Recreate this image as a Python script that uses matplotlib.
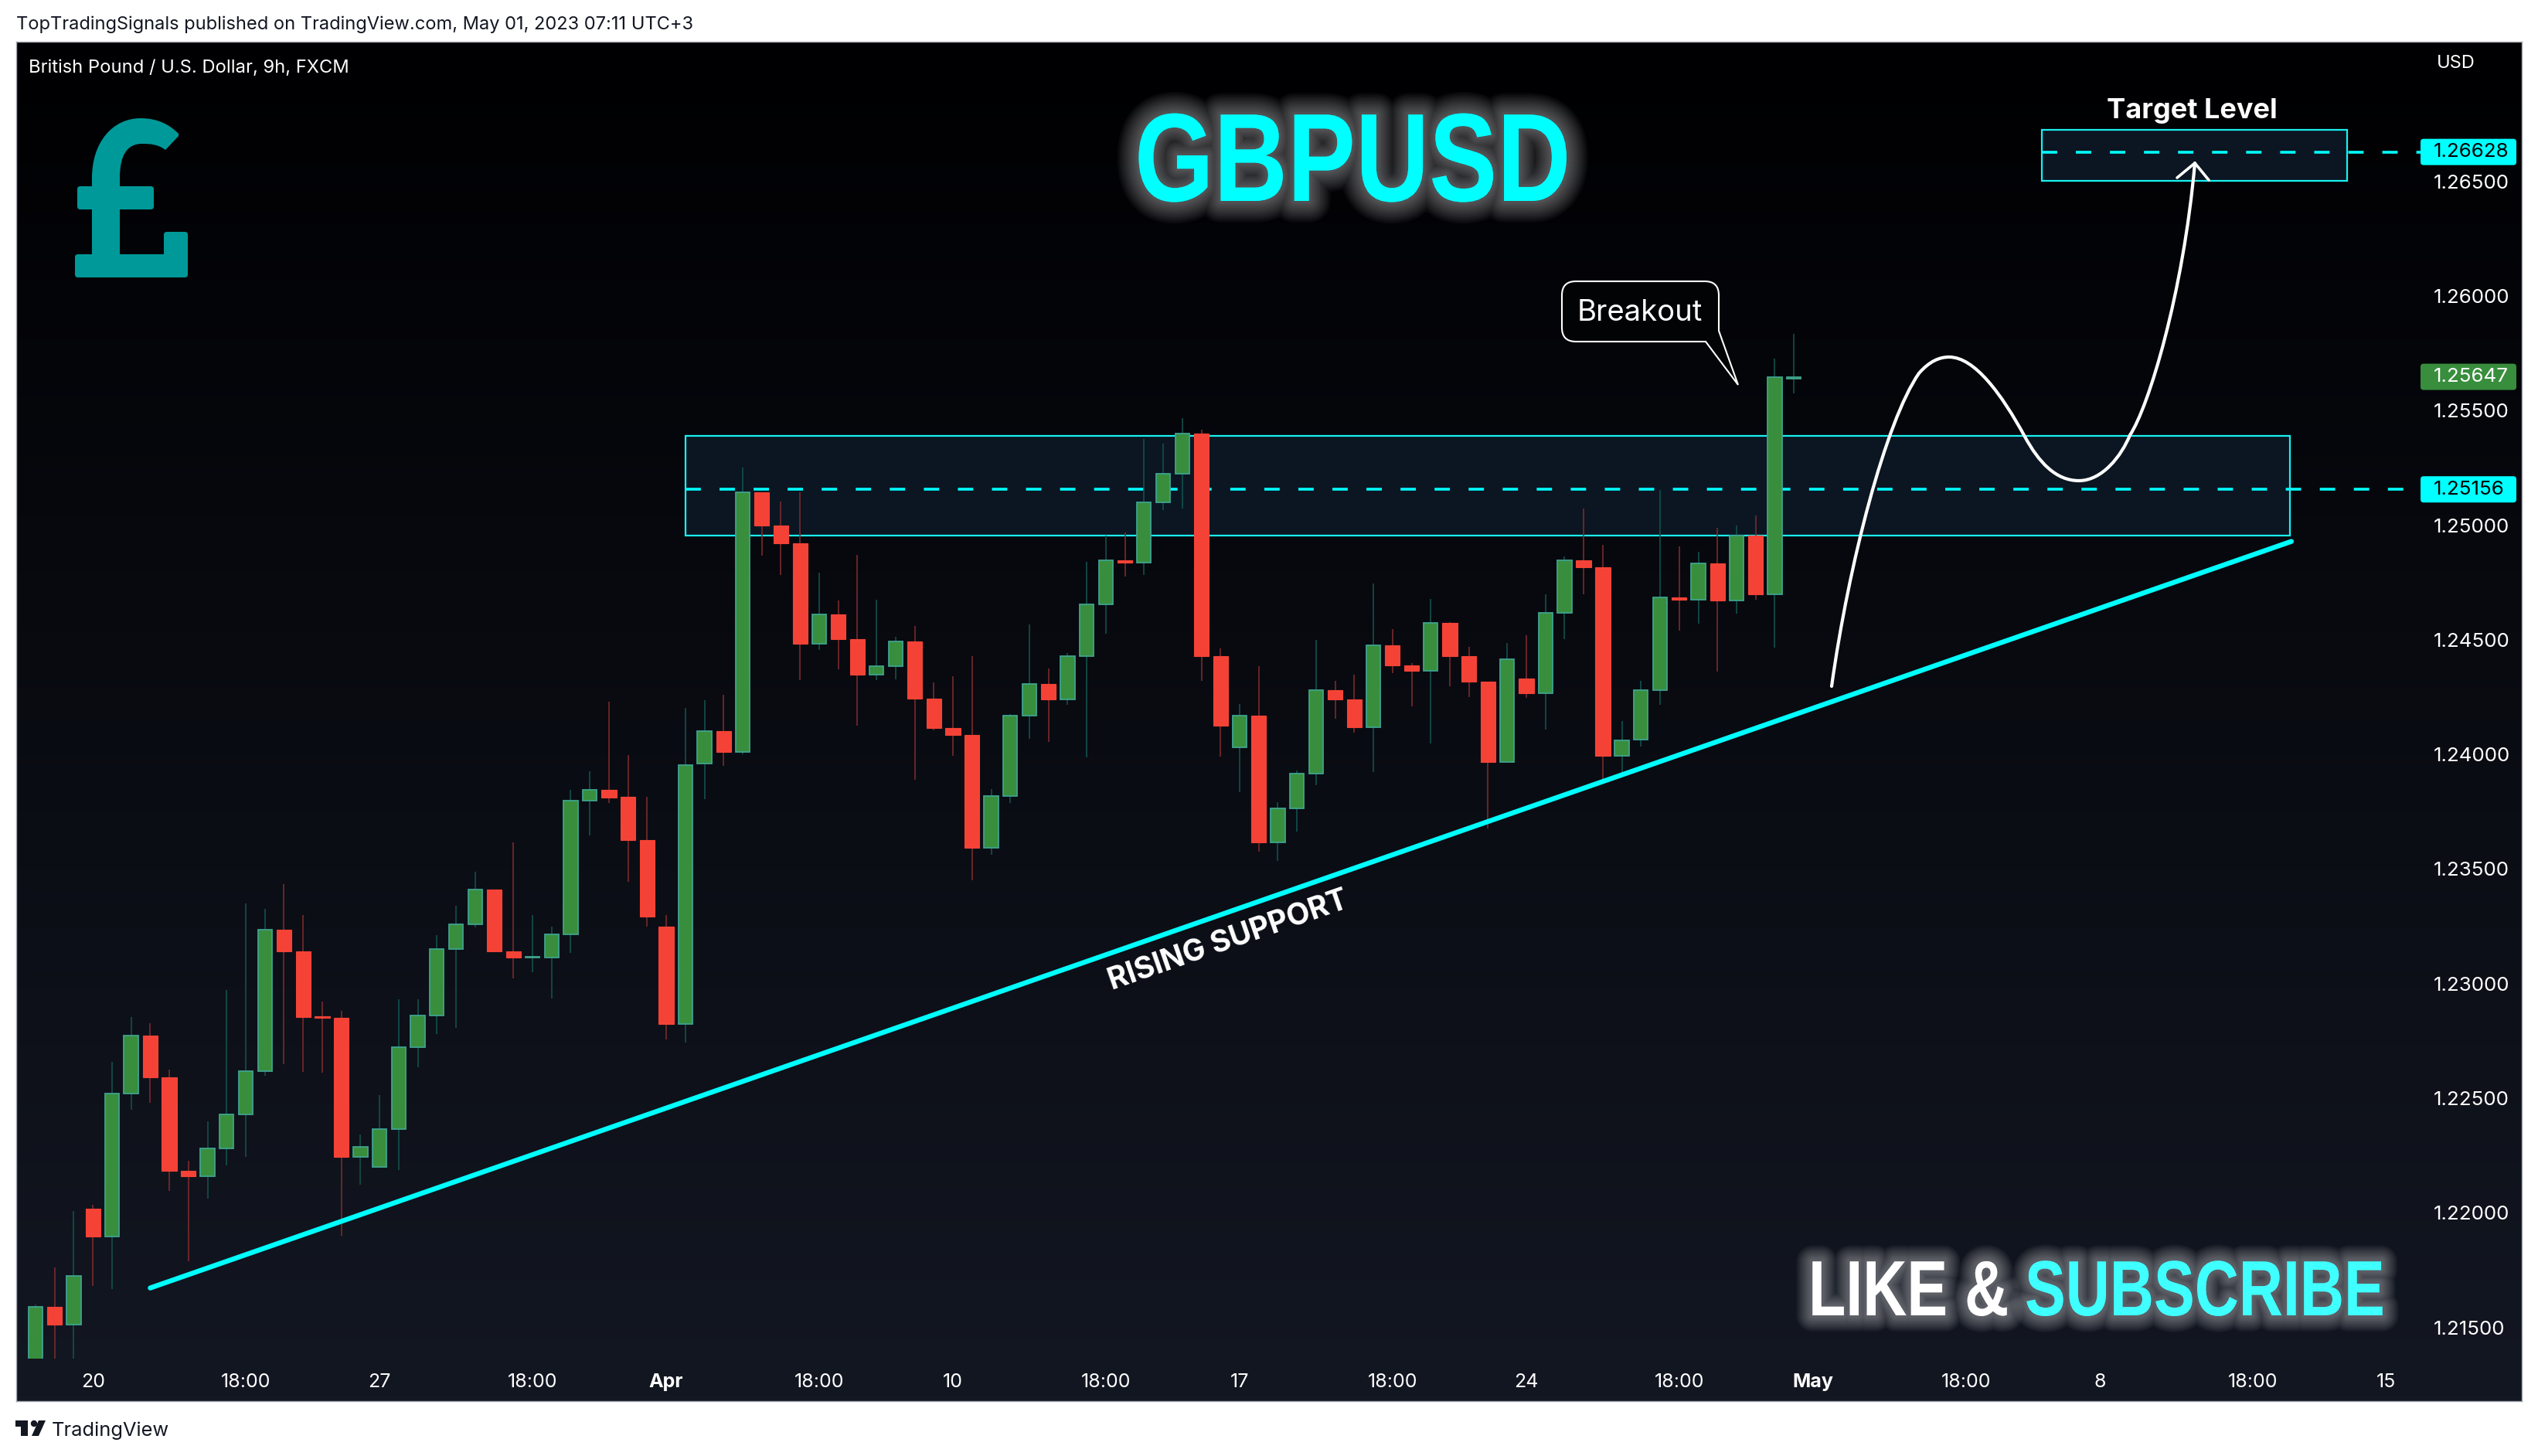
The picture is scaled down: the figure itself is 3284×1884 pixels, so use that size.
import numpy as np
import matplotlib
matplotlib.use('Agg')
import matplotlib.pyplot as plt
import matplotlib.patheffects as pe
from matplotlib.patches import FancyBboxPatch, PathPatch, Polygon, Circle, Rectangle
from matplotlib.path import Path
from matplotlib.transforms import Affine2D, Bbox

# 9h candles, oldest first
opens = [1.21350, 1.21589, 1.21513, 1.22019, 1.21897, 1.22520, 1.22773, 1.22591, 1.22183, 1.22160,
         1.22282, 1.22429, 1.22619, 1.23236, 1.23141, 1.22857, 1.22851, 1.22245, 1.22199, 1.22365,
         1.22723, 1.22860, 1.23151, 1.23259, 1.23410, 1.23141, 1.23112, 1.23114, 1.23215, 1.23799,
         1.23846, 1.23816, 1.23625, 1.23249, 1.22822, 1.23959, 1.24100, 1.24012, 1.25144, 1.24999,
         1.24922, 1.24483, 1.24612, 1.24504, 1.24349, 1.24385, 1.24494, 1.24244, 1.24114, 1.24086,
         1.23594, 1.23819, 1.24170, 1.24308, 1.24241, 1.24430, 1.24655, 1.24848, 1.24838, 1.25098,
         1.25225, 1.25400, 1.24427, 1.24029, 1.24170, 1.23615, 1.23766, 1.23917, 1.24279, 1.24241,
         1.24120, 1.24476, 1.24389, 1.24366, 1.24574, 1.24430, 1.24318, 1.23967, 1.24332, 1.24268,
         1.24619, 1.24848, 1.24817, 1.23995, 1.24064, 1.24279, 1.24686, 1.24676, 1.24834, 1.24672,
         1.24955, 1.24697, 1.25640]
closes = [1.21589, 1.21513, 1.21724, 1.21897, 1.22520, 1.22773, 1.22591, 1.22183, 1.22160, 1.22282,
          1.22429, 1.22619, 1.23236, 1.23139, 1.22855, 1.22851, 1.22245, 1.22288, 1.22365, 1.22723,
          1.22860, 1.23151, 1.23259, 1.23410, 1.23141, 1.23114, 1.23116, 1.23215, 1.23799, 1.23846,
          1.23811, 1.23625, 1.23293, 1.22822, 1.23954, 1.24100, 1.24012, 1.25144, 1.24999, 1.24922,
          1.24483, 1.24612, 1.24504, 1.24349, 1.24385, 1.24494, 1.24244, 1.24114, 1.24086, 1.23594,
          1.23819, 1.24170, 1.24308, 1.24239, 1.24430, 1.24655, 1.24848, 1.24838, 1.25098, 1.25225,
          1.25400, 1.24427, 1.24124, 1.24170, 1.23615, 1.23766, 1.23917, 1.24279, 1.24241, 1.24120,
          1.24476, 1.24389, 1.24366, 1.24574, 1.24430, 1.24318, 1.23967, 1.24416, 1.24268, 1.24619,
          1.24848, 1.24817, 1.23995, 1.24062, 1.24279, 1.24686, 1.24676, 1.24834, 1.24672, 1.24955,
          1.24697, 1.25646, 1.25647]
highs = [1.21601, 1.21761, 1.22007, 1.22034, 1.22657, 1.22853, 1.22826, 1.22624, 1.22226, 1.22398,
         1.22971, 1.23348, 1.23325, 1.23433, 1.23298, 1.22920, 1.22882, 1.22340, 1.22512, 1.22930,
         1.22930, 1.23213, 1.23338, 1.23489, 1.23410, 1.23615, 1.23298, 1.23248, 1.23844, 1.23925,
         1.24229, 1.23998, 1.23816, 1.23298, 1.24204, 1.24237, 1.24260, 1.25252, 1.25144, 1.25104,
         1.25144, 1.24793, 1.24671, 1.24870, 1.24674, 1.24513, 1.24559, 1.24313, 1.24341, 1.24428,
         1.23850, 1.24174, 1.24566, 1.24375, 1.24442, 1.24841, 1.24955, 1.24969, 1.25376, 1.25356,
         1.25467, 1.25416, 1.24463, 1.24219, 1.24384, 1.23792, 1.23928, 1.24499, 1.24320, 1.24347,
         1.24745, 1.24547, 1.24397, 1.24678, 1.24578, 1.24468, 1.24318, 1.24485, 1.24519, 1.24698,
         1.24863, 1.25072, 1.24913, 1.24144, 1.24320, 1.25152, 1.24906, 1.24884, 1.24987, 1.24998,
         1.25042, 1.25727, 1.25835]
lows = [1.21300, 1.21300, 1.21300, 1.21682, 1.21668, 1.22448, 1.22479, 1.22094, 1.21788, 1.22061,
        1.22208, 1.22245, 1.22597, 1.22648, 1.22613, 1.22611, 1.21900, 1.22121, 1.22197, 1.22185,
        1.22636, 1.22781, 1.22808, 1.23246, 1.23141, 1.23021, 1.23048, 1.22936, 1.23135, 1.23648,
        1.23788, 1.23444, 1.23247, 1.22756, 1.22742, 1.23804, 1.23950, 1.24002, 1.24867, 1.24783,
        1.24323, 1.24454, 1.24372, 1.24126, 1.24323, 1.24327, 1.23888, 1.24105, 1.23993, 1.23450,
        1.23563, 1.23787, 1.24067, 1.24053, 1.24215, 1.23986, 1.24526, 1.24776, 1.24783, 1.25065,
        1.25072, 1.24320, 1.23990, 1.23835, 1.23575, 1.23536, 1.23663, 1.23866, 1.24155, 1.24095,
        1.23922, 1.24356, 1.24208, 1.24046, 1.24297, 1.24249, 1.23675, 1.23967, 1.24246, 1.24108,
        1.24502, 1.24698, 1.23871, 1.23916, 1.24033, 1.24215, 1.24540, 1.24569, 1.24361, 1.24614,
        1.24674, 1.24466, 1.25576]

price_ticks = [1.215, 1.22, 1.225, 1.23, 1.235, 1.24, 1.245, 1.25, 1.255, 1.26, 1.265]
time_ticks = [3, 11, 18, 26, 33, 41, 48, 56, 63, 71, 78, 86, 93, 101, 108, 116, 123]
time_labels = ['20', '18:00', '27', '18:00', 'Apr', '18:00', '10', '18:00', '17', '18:00',
               '24', '18:00', 'May', '18:00', '8', '18:00', '15']

zone_price = [1.24955, 1.25390]
zone_level = 1.25156
target_price = [1.26502, 1.26726]
target_level = 1.26628
last_price = 1.25647
support_x = [6.0, 118.03]
support_y = [1.21672, 1.24929]

W, H = 3284, 1884
BAR0, BARW = 46.0, 24.73
CYAN = '#00ffff'
TEXT_FONT = ['Inter', 'Roboto', 'DejaVu Sans']
HEAVY_FONT = ['Liberation Sans', 'DejaVu Sans']


def bar_of(px_x):
    return (px_x - BAR0) / BARW


def price_of(px_y):
    return 1.25 - (px_y - 679.5) / 29660.0


def px_of(price):
    return 679.5 + (1.25 - price) * 29660.0


def frac(x0, y0, x1, y1):
    return [x0 / W, 1 - y1 / H, (x1 - x0) / W, (y1 - y0) / H]


class Squeeze(pe.AbstractPathEffect):
    # no condensed font is installed, so narrow the glyphs and run the inner effects on them
    def __init__(self, sx, inner):
        super().__init__()
        self.sx = sx
        self.inner = inner

    def draw_path(self, renderer, gc, tpath, affine, rgbFace=None):
        narrow = Affine2D().scale(self.sx, 1) + affine
        for fx in self.inner:
            fx.draw_path(renderer, gc, tpath, narrow, rgbFace)


def narrow_extent(t, sx):
    # report the squeezed width to anything that asks where the text lies
    orig = t.get_window_extent

    def extent(renderer=None, dpi=None):
        bb = orig(renderer, dpi)
        return Bbox.from_extents(bb.x0, bb.y0, bb.x0 + bb.width * sx, bb.y1)
    t.get_window_extent = extent
    return t


plt.rcParams['font.family'] = TEXT_FONT
fig = plt.figure(figsize=(W / 100, H / 100), dpi=100, facecolor='white')
px = Affine2D().scale(1, -1).translate(0, H)

# pane background gradient
bg = fig.add_axes(frac(20.5, 54, 3262.5, 1813))
grad = np.linspace(0, 1, 256)[:, None, None] * (np.array([19, 23, 34]) - np.array([0, 0, 2])) + np.array([0, 0, 2])
bg.imshow(grad.astype(np.uint8), aspect='auto', extent=[0, 1, 0, 1])
bg.set_xticks([])
bg.set_yticks([])
for s in bg.spines.values():
    s.set_color('#a3a6af')
    s.set_linewidth(1.0)

ax = fig.add_axes(frac(21, 54, 3262, 1758))
ax.patch.set_alpha(0)
ax.set_xlim(bar_of(21), bar_of(3262))
ax.set_ylim(price_of(1758), price_of(54))
for s in ax.spines.values():
    s.set_visible(False)

# zones
zone_x = [bar_of(887), bar_of(2963)]
target_x = [bar_of(2642), bar_of(3037)]
for xs, ys in [(zone_x, zone_price), (target_x, target_price)]:
    ax.add_patch(Rectangle((xs[0], ys[0]), xs[1] - xs[0], ys[1] - ys[0], facecolor='#0b1622',
                           edgecolor='none', zorder=1))
    ax.add_patch(Rectangle((xs[0], ys[0]), xs[1] - xs[0], ys[1] - ys[0], facecolor='none',
                           edgecolor='#19f0f0', linewidth=1.6, zorder=2.5))
label_x = bar_of(3132)
for x0, lvl in [(zone_x[0], zone_level), (target_x[0], target_level)]:
    ax.plot([x0, label_x], [lvl, lvl], color=CYAN, lw=2.6, dashes=(5.5, 6.7), zorder=2)

# candles
x = np.arange(len(opens))
o = np.array(opens)
c = np.array(closes)
up = c >= o
ax.vlines(x[up], np.array(lows)[up], np.array(highs)[up], color='#12504c', lw=1.2, zorder=3)
ax.vlines(x[~up], np.array(lows)[~up], np.array(highs)[~up], color='#7a2a2c', lw=1.2, zorder=3)
ax.bar(x[up], (c - o)[up], bottom=o[up], width=0.74, color='#388e3c', edgecolor='#3fa38f', linewidth=1.3, zorder=4)
ax.bar(x[~up], (o - c)[~up], bottom=c[~up], width=0.78, color='#f44336', edgecolor='#f44336', linewidth=0.8, zorder=4)

# rising support
ax.plot(support_x, support_y, color=CYAN, lw=4.6, solid_capstyle='round', zorder=5)

# axes
ax.set_xticks(time_ticks)
ax.set_xticklabels(time_labels, fontsize=18, color='white')
for lab in ax.get_xticklabels():
    if lab.get_text() in ('Apr', 'May'):
        lab.set_fontweight('bold')
ax.set_yticks(price_ticks)
ax.set_yticklabels([f'{p:.5f}' for p in price_ticks], fontsize=18.7, color='white')
ax.yaxis.tick_right()
ax.tick_params(axis='y', length=0, direction='in', pad=-(3262 - 3149) * 0.72)
ax.tick_params(axis='x', length=0, pad=14)
for lab in ax.get_yticklabels():
    lab.set_horizontalalignment('left')


def txt(xp, yp, s, **kw):
    kw.setdefault('transform', px)
    kw.setdefault('color', 'white')
    kw.setdefault('va', 'center')
    kw.setdefault('zorder', 8)
    kw.setdefault('clip_on', False)
    return ax.text(xp, yp, s, **kw)


# price labels
for lvl, fc, tc in [(target_level, CYAN, 'black'), (last_price, '#388e3c', 'white'), (zone_level, CYAN, 'black')]:
    yp = px_of(lvl)
    ax.add_patch(FancyBboxPatch((3134, yp - 15), 120, 30, boxstyle='round,pad=2,rounding_size=4', facecolor=fc,
                                edgecolor='none', transform=px, zorder=7, clip_on=False))
    txt(3149, yp, f'{lvl:.5f}', fontsize=18.7, color=tc)
txt(3153, 82, 'USD', fontsize=17)

# header and footer
txt(21, 32, 'TopTradingSignals published on TradingView.com, May 01, 2023 07:11 UTC+3', fontsize=17, color='#131722')
txt(37, 88, 'British Pound / U.S. Dollar, 9h, FXCM', fontsize=17.1)
txt(67, 1851, 'TradingView', fontsize=18.3, color='#131722')
ax.add_patch(Polygon([(20, 1838), (36, 1838), (36, 1858), (27, 1858), (27, 1846), (20, 1846)], facecolor='#131722',
                     transform=px, clip_on=False))
ax.add_patch(Circle((44, 1842), 4.2, facecolor='#131722', transform=px, clip_on=False))
ax.add_patch(Polygon([(50, 1838), (59, 1838), (50, 1858), (41, 1858)], facecolor='#131722', transform=px, clip_on=False))

# pound logo
TEAL = '#009999'
for (x0, y0, w, h) in [(119, 225, 36, 110), (100, 241, 99, 30), (97, 329, 146, 30), (212, 300, 31, 40)]:
    ax.add_patch(FancyBboxPatch((x0 + 3, y0 + 3), w - 6, h - 6, boxstyle='round,pad=3,rounding_size=4', facecolor=TEAL,
                                edgecolor='none', transform=px, zorder=6, clip_on=False))
hook = Path([(119, 230), (119, 185), (145, 153), (182, 153), (205, 153), (220, 162), (231, 173), (231, 176), (214, 194),
             (205, 187), (195, 186), (184, 186), (165, 186), (155, 200), (155, 230), (119, 230)],
            [Path.MOVETO, Path.CURVE4, Path.CURVE4, Path.CURVE4, Path.CURVE4, Path.CURVE4, Path.CURVE4, Path.LINETO,
             Path.LINETO, Path.CURVE4, Path.CURVE4, Path.CURVE4, Path.CURVE4, Path.CURVE4, Path.CURVE4, Path.CLOSEPOLY])
ax.add_patch(PathPatch(hook, facecolor=TEAL, edgecolor='none', transform=px, zorder=6, clip_on=False))


def glow(sx, n=10, a=0.04, wmin=5, wmax=40):
    fx = [pe.Stroke(linewidth=w, foreground='white', alpha=a) for w in np.linspace(wmax, wmin, n)]
    return [Squeeze(sx, fx + [pe.Normal()])]


# big titles
narrow_extent(txt(1468, 260, 'GBPUSD', fontsize=117, color=CYAN, family=HEAVY_FONT, weight='bold', va='baseline',
                  path_effects=glow(0.812)), 0.812)
narrow_extent(txt(2340, 1702, 'LIKE &', fontsize=73, color='white', family=HEAVY_FONT, weight='bold', va='baseline',
                  path_effects=glow(0.78, wmax=30)), 0.78)
narrow_extent(txt(2620, 1702, 'SUBSCRIBE', fontsize=73, color='#40ffff', family=HEAVY_FONT, weight='bold', va='baseline',
                  path_effects=glow(0.78, wmax=30)), 0.78)
txt(1590, 1217, 'RISING SUPPORT', fontsize=28, weight='bold', ha='center', rotation=19.2, rotation_mode='anchor')
txt(2836, 143, 'Target Level', fontsize=26, weight='bold', ha='center')

# breakout callout
x0, x1, y0, y1, r = 2021, 2224, 364, 442, 18
call = Path([(x0 + r, y0), (x1 - r, y0), (x1, y0), (x1, y0 + r), (x1, 428), (2249, 498), (2207, y1), (x0 + r, y1),
             (x0, y1), (x0, y1 - r), (x0, y0 + r), (x0, y0), (x0 + r, y0), (x0 + r, y0)],
            [Path.MOVETO, Path.LINETO, Path.CURVE3, Path.CURVE3, Path.LINETO, Path.LINETO, Path.LINETO, Path.LINETO,
             Path.CURVE3, Path.CURVE3, Path.LINETO, Path.CURVE3, Path.CURVE3, Path.CLOSEPOLY])
ax.add_patch(PathPatch(call, facecolor='#020305', edgecolor='white', lw=1.5, transform=px, zorder=6))
txt(2122, 405, 'Breakout', fontsize=27.5, ha='center')

# projected path with arrow head
curve = Path([(2370, 888), (2392, 730), (2440, 545), (2483, 483), (2497, 467), (2510, 462), (2522, 462),
              (2555, 462), (2590, 510), (2620, 565), (2638, 598), (2660, 622), (2690, 622),
              (2720, 622), (2745, 590), (2756, 563), (2780, 527), (2825, 380), (2840, 211)],
             [Path.MOVETO] + [Path.CURVE4] * 18)
ax.add_patch(PathPatch(curve, facecolor='none', edgecolor='white', lw=3.0, capstyle='round', transform=px, zorder=6))
ax.plot([2817, 2840, 2858], [230, 211, 233], color='white', lw=2.6, transform=px, zorder=6, solid_capstyle='round')

fig.savefig('out.png', dpi=100, facecolor='white')
